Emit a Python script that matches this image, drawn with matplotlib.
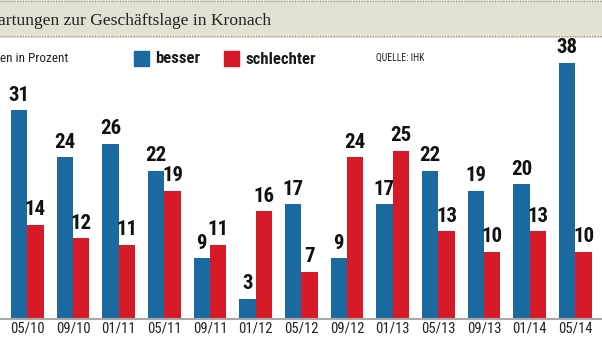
import matplotlib.pyplot as plt
from matplotlib import font_manager
from matplotlib.patches import Rectangle
from matplotlib.lines import Line2D
import numpy as np

# Daten
perioden = ["05/10", "09/10", "01/11", "05/11", "09/11", "01/12", "05/12",
            "09/12", "01/13", "05/13", "09/13", "01/14", "05/14"]
besser = [31, 24, 26, 22, 9, 3, 17, 9, 17, 22, 19, 20, 38]
schlechter = [14, 12, 11, 19, 11, 16, 7, 24, 25, 13, 10, 13, 10]

BLAU = "#1a6aa1"
ROT = "#d71a28"


def pick_font(names):
    installed = {f.name for f in font_manager.fontManager.ttflist}
    for n in names:
        if n in installed:
            return n
    return "DejaVu Sans"


narrow = pick_font(["Liberation Sans Narrow", "Roboto Condensed",
                    "Open Sans Condensed", "DejaVu Sans Condensed"])
serif = pick_font(["Liberation Serif", "DejaVu Serif"])

W, H = 602, 339
fig = plt.figure(figsize=(W / 100, H / 100), dpi=100)

# Titelleiste
bg = fig.add_axes([0, 0, 1, 1], zorder=0)
bg.set_xlim(0, W)
bg.set_ylim(H, 0)
bg.axis("off")
bg.add_patch(Rectangle((0, 0), W, 37, color="#e3e1d2", zorder=0))
for yy in (1, 36):
    bg.add_line(Line2D([0, W], [yy, yy], color="#8a8a80", lw=0.8,
                       ls=(0, (1, 1.5)), zorder=1))
bg.text(-2, 25, "artungen zur Geschäftslage in Kronach", family=serif,
        fontsize=12.6, color="#222222", va="baseline", ha="left")

# Legende und Hinweise
bg.text(0, 62, "en in Prozent", family=narrow, fontsize=9.5,
        color="#222222", va="baseline")
bg.add_patch(Rectangle((134, 51), 15, 15, color=BLAU))
bg.text(155, 63, "besser", family=narrow, fontsize=12, weight="bold",
        color="#1a1a1a", va="baseline")
bg.add_patch(Rectangle((224, 51), 15, 15, color=ROT))
bg.text(245, 64, "schlechter", family=narrow, fontsize=12, weight="bold",
        color="#1a1a1a", va="baseline")
bg.text(376, 61, "QUELLE: IHK", family=narrow, fontsize=7,
        color="#222222", va="baseline")

# Balkendiagramm
step = 45.67
x0 = 27.3
base_px = 319
top_px = 63
ax = fig.add_axes([0, (H - base_px) / H, 1, (base_px - top_px) / H],
                  zorder=2)
ax.patch.set_alpha(0)
ax.set_xlim(-x0 / step, (W - x0) / step)
ax.set_ylim(0, 38)

x = np.arange(len(perioden))
bw = 16.4 / step
ax.bar(x - bw / 2, besser, width=bw, color=BLAU, linewidth=0)
ax.bar(x + bw / 2, schlechter, width=bw, color=ROT, linewidth=0)

for xi, b, s in zip(x, besser, schlechter):
    ax.annotate(str(b), (xi - bw / 2, b), xytext=(0, 4),
                textcoords="offset points", ha="center", va="bottom",
                family=narrow, weight="bold", fontsize=15, color="#111111",
                annotation_clip=False)
    ax.annotate(str(s), (xi + bw / 2, s), xytext=(0, 4),
                textcoords="offset points", ha="center", va="bottom",
                family=narrow, weight="bold", fontsize=15, color="#111111",
                annotation_clip=False)

for sp in ["top", "right", "left"]:
    ax.spines[sp].set_visible(False)
ax.spines["bottom"].set_color("#a8a8a8")
ax.spines["bottom"].set_linewidth(1.5)
ax.set_yticks([])
ax.set_xticks(x)
ax.set_xticklabels(perioden, family=narrow, fontsize=10.5, color="#222222")
ax.tick_params(axis="x", length=0, pad=2)

fig.savefig("out.png", dpi=100)
